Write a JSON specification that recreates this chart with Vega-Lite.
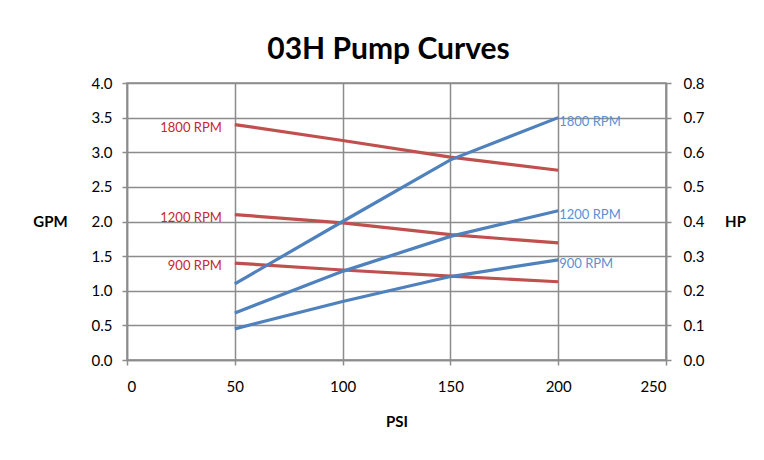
{
  "$schema": "https://vega.github.io/schema/vega-lite/v6.json",
  "autosize": "none",
  "width": 539,
  "height": 277,
  "padding": {"left": 127, "top": 83, "right": 98, "bottom": 100},
  "background": "white",
  "config": {
    "font": "Lato",
    "view": {"stroke": "#8c8c8c", "strokeWidth": 1.5},
    "axis": {
      "gridColor": "#8c8c8c",
      "gridWidth": 1.5,
      "domainColor": "#8c8c8c",
      "domainWidth": 1.5,
      "tickColor": "#8c8c8c",
      "tickWidth": 1.5,
      "tickSize": 5,
      "labelFont": "Lato",
      "labelFontSize": 15,
      "labelColor": "#000000",
      "titleFont": "Lato",
      "titleFontSize": 15,
      "titleFontWeight": "bold",
      "titleColor": "#000000"
    }
  },
  "title": {
    "text": "03H Pump Curves",
    "font": "Lato",
    "fontSize": 30,
    "fontWeight": "bold",
    "color": "#000000",
    "anchor": "middle",
    "dx": -8,
    "offset": 11
  },
  "datasets": {
    "gpm": [
      {"psi": 50, "rpm": "1800 RPM", "gpm": 3.4},
      {"psi": 100, "rpm": "1800 RPM", "gpm": 3.17},
      {"psi": 150, "rpm": "1800 RPM", "gpm": 2.93},
      {"psi": 200, "rpm": "1800 RPM", "gpm": 2.74},
      {"psi": 50, "rpm": "1200 RPM", "gpm": 2.1},
      {"psi": 100, "rpm": "1200 RPM", "gpm": 1.98},
      {"psi": 150, "rpm": "1200 RPM", "gpm": 1.81},
      {"psi": 200, "rpm": "1200 RPM", "gpm": 1.69},
      {"psi": 50, "rpm": "900 RPM", "gpm": 1.4},
      {"psi": 100, "rpm": "900 RPM", "gpm": 1.3},
      {"psi": 150, "rpm": "900 RPM", "gpm": 1.21},
      {"psi": 200, "rpm": "900 RPM", "gpm": 1.13}
    ],
    "hp": [
      {"psi": 50, "rpm": "1800 RPM", "hp": 0.22},
      {"psi": 100, "rpm": "1800 RPM", "hp": 0.4},
      {"psi": 150, "rpm": "1800 RPM", "hp": 0.578},
      {"psi": 200, "rpm": "1800 RPM", "hp": 0.7},
      {"psi": 50, "rpm": "1200 RPM", "hp": 0.136},
      {"psi": 100, "rpm": "1200 RPM", "hp": 0.256},
      {"psi": 150, "rpm": "1200 RPM", "hp": 0.357},
      {"psi": 200, "rpm": "1200 RPM", "hp": 0.431},
      {"psi": 50, "rpm": "900 RPM", "hp": 0.09},
      {"psi": 100, "rpm": "900 RPM", "hp": 0.169},
      {"psi": 150, "rpm": "900 RPM", "hp": 0.241},
      {"psi": 200, "rpm": "900 RPM", "hp": 0.289}
    ]
  },
  "encoding": {
    "x": {
      "field": "psi",
      "type": "quantitative",
      "scale": {"domain": [0, 250], "nice": false},
      "axis": {
        "values": [0, 50, 100, 150, 200, 250],
        "title": "PSI",
        "labelPadding": 14,
        "titlePadding": 20,
        "grid": true
      }
    }
  },
  "layer": [
    {
      "data": {"name": "gpm"},
      "encoding": {
        "y": {
          "field": "gpm",
          "type": "quantitative",
          "scale": {"domain": [0, 4], "nice": false, "zero": true},
          "axis": {
            "orient": "left",
            "values": [0, 0.5, 1, 1.5, 2, 2.5, 3, 3.5, 4],
            "format": ".1f",
            "labelPadding": 10,
            "grid": true,
            "title": "GPM",
            "titleAngle": 0,
            "titleAlign": "center",
            "titleBaseline": "middle",
            "titleX": -77,
            "titleY": 138.5
          }
        }
      },
      "layer": [
        {
          "mark": {"type": "line", "color": "#c0504d", "strokeWidth": 3.2},
          "encoding": {"detail": {"field": "rpm"}}
        },
        {
          "transform": [{"filter": "datum.psi == 50"}],
          "mark": {"type": "text", "align": "right", "baseline": "middle", "dx": -13, "dy": 3, "fontSize": 13, "color": "#c8262f", "font": "Lato"},
          "encoding": {"text": {"field": "rpm"}}
        }
      ]
    },
    {
      "data": {"name": "hp"},
      "encoding": {
        "y": {
          "field": "hp",
          "type": "quantitative",
          "scale": {"domain": [0, 0.8], "nice": false, "zero": true},
          "axis": {
            "orient": "right",
            "values": [0, 0.1, 0.2, 0.3, 0.4, 0.5, 0.6, 0.7, 0.8],
            "format": ".1f",
            "labelPadding": 12,
            "grid": false,
            "title": "HP",
            "titleAngle": 0,
            "titleAlign": "center",
            "titleBaseline": "middle",
            "titleX": 69,
            "titleY": 138.5
          }
        }
      },
      "layer": [
        {
          "mark": {"type": "line", "color": "#4f81bd", "strokeWidth": 3.2},
          "encoding": {"detail": {"field": "rpm"}}
        },
        {
          "transform": [{"filter": "datum.psi == 200"}],
          "mark": {"type": "text", "align": "left", "baseline": "middle", "dx": 1, "dy": 4, "fontSize": 13, "color": "#5b8fd6", "font": "Lato"},
          "encoding": {"text": {"field": "rpm"}}
        }
      ]
    }
  ],
  "resolve": {"scale": {"y": "independent"}}
}
